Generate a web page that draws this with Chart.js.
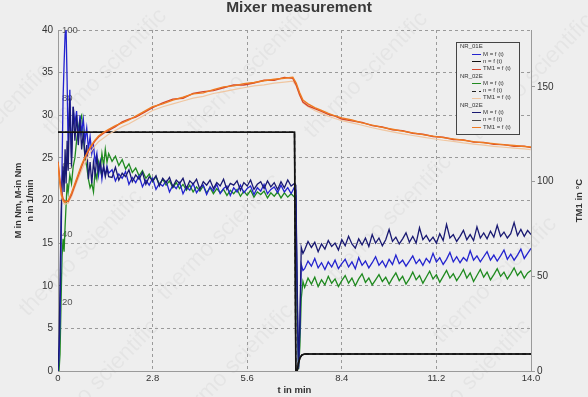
<!DOCTYPE html>
<html>
<head>
<meta charset="utf-8">
<title>Mixer measurement</title>
<script src="https://cdn.jsdelivr.net/npm/chart.js@4.4.1/dist/chart.umd.min.js"></script>
<style>
  html, body { margin: 0; padding: 0; background: #eeeeee; }
  #wrap { position: relative; width: 588px; height: 397px; }
</style>
</head>
<body>
<div id="wrap"><canvas id="myChart" width="588" height="397"></canvas></div>
<script>
// legend groups, one per run
const runs = ["NR_01E", "NR_02E", "NR_02E"];

// axis ticks
const xTicks = [0, 2.8, 5.6, 8.4, 11.2, 14.0];
const xTickLabels = ["0", "2.8", "5.6", "8.4", "11.2", "14.0"];
const mTicks = [0, 5, 10, 15, 20, 25, 30, 35, 40];
const nTicks = [20, 40, 60, 80, 100];
const tempTicks = [0, 50, 100, 150];

// torque M (Nm), sampled at tM (min)
const tM = [
  0, 0.03, 0.06, 0.09, 0.12, 0.15, 0.18, 0.21, 0.24, 0.27,
  0.3, 0.35, 0.4, 0.45, 0.5, 0.55, 0.6, 0.65, 0.7, 0.75,
  0.8, 0.85, 0.9, 0.95, 1.0, 1.05, 1.1, 1.15, 1.2, 1.25,
  1.3, 1.35, 1.4, 1.45, 1.5,
  1.6, 1.7, 1.8, 1.9, 2.0, 2.1, 2.2, 2.3, 2.4, 2.5,
  2.6, 2.7, 2.8, 2.9, 3.0, 3.1, 3.2, 3.3, 3.4, 3.5,
  3.6, 3.7, 3.8, 3.9, 4.0, 4.1, 4.2, 4.3, 4.4, 4.5,
  4.6, 4.7, 4.8, 4.9, 5.0, 5.1, 5.2, 5.3, 5.4, 5.5,
  5.6, 5.7, 5.8, 5.9, 6.0, 6.1, 6.2, 6.3, 6.4, 6.5,
  6.6, 6.7, 6.8, 6.9, 7.0,
  7.04, 7.08, 7.12, 7.16, 7.2, 7.25,
  7.3, 7.4, 7.5, 7.6, 7.7, 7.8, 7.9, 8.0, 8.1, 8.2,
  8.3, 8.4, 8.5, 8.6, 8.7, 8.8, 8.9, 9.0, 9.1, 9.2,
  9.3, 9.4, 9.5, 9.6, 9.7, 9.8, 9.9, 10.0, 10.1, 10.2,
  10.3, 10.4, 10.5, 10.6, 10.7, 10.8, 10.9, 11.0, 11.1, 11.2,
  11.3, 11.4, 11.5, 11.6, 11.7, 11.8, 11.9, 12.0, 12.1, 12.2,
  12.3, 12.4, 12.5, 12.6, 12.7, 12.8, 12.9, 13.0, 13.1, 13.2,
  13.3, 13.4, 13.5, 13.6, 13.7, 13.8, 13.9, 14.0
];

const mRun1 = [
  0, 1.5, 6, 14, 24, 32, 36, 39.5, 40, 34,
  26, 33, 25, 31, 29, 30.5, 27, 30, 28, 29.5,
  27, 28.5, 26, 27.5, 25.5, 26.5, 24.5, 25.5, 23, 24.5,
  22.5, 24, 23, 24, 23.2,
  23.6, 22.3, 23.1, 22.6, 23.4, 21.9, 22.7, 22.1, 22.9, 21.6,
  22.4, 21.8, 22.6, 21.3, 22.0, 21.7, 22.3, 21.0, 21.8, 21.4,
  22.1, 20.8, 21.6, 21.2, 22.0, 20.9, 21.5, 21.8, 20.7, 21.6,
  21.1, 21.9, 20.8, 21.4, 21.7, 20.6, 21.5, 21.0, 21.8, 20.9,
  21.4, 21.7, 20.7, 21.5, 21.1, 21.9, 20.8, 21.3, 21.6, 20.9,
  21.8, 21.0, 21.5, 20.8, 21.6,
  21.2, 8, 0.3, 5, 12.5, 11.8,
  12.0, 12.9, 12.3, 13.2, 12.1, 12.7, 11.9, 12.8, 12.2, 13.0,
  12.0, 12.6, 13.1, 12.2, 12.8, 12.0, 13.3, 12.4, 12.9, 12.1,
  12.7, 13.4, 12.4, 12.9, 12.2, 13.1, 12.5, 13.6, 12.6, 13.0,
  12.3, 12.9, 13.5, 12.6, 13.1, 12.4, 13.2, 12.7, 13.8, 12.8,
  13.3, 12.5, 13.1, 13.9, 12.8, 13.4, 12.7, 13.3, 12.9, 14.1,
  13.0, 13.5, 12.8, 13.4, 14.0, 13.0, 13.6, 12.9, 13.5, 14.2,
  13.1, 13.7, 13.0, 13.6, 14.3, 13.2, 13.8, 14.4
];

const mRun2 = [
  0, 0, 2, 8, 13.5, 15.5, 14, 17, 19.5, 22,
  21, 23, 22, 24, 25, 27, 28.5, 29.5, 30, 27.5,
  25, 24, 22.5, 21.5, 22, 21, 23.5, 22.5, 24.5, 23.5,
  25.5, 24, 26, 24.5, 25.5,
  24.6, 25.2, 24.1, 24.8, 23.7, 24.3, 23.3, 23.8, 22.9, 23.5,
  22.6, 23.1, 22.2, 22.8, 21.9, 22.5, 21.8, 22.3, 21.5, 22.1,
  21.4, 21.9, 21.2, 21.8, 21.0, 21.6, 21.1, 21.7, 20.9, 21.5,
  20.8, 21.4, 20.9, 21.3, 20.6, 21.2, 20.8, 21.3, 20.5, 21.1,
  20.6, 21.2, 20.4, 21.0, 20.7, 21.1, 20.3, 20.9, 20.5, 21.0,
  20.3, 20.9, 20.4, 20.8, 20.4,
  20.5, 6, 0.2, 3, 8.5, 10.5,
  9.8, 10.9, 10.2, 11.0, 9.9, 10.7, 10.1, 11.1, 10.3, 10.8,
  9.9, 10.6, 11.2, 10.3, 10.9, 10.0, 10.8, 11.4, 10.4, 10.9,
  10.1, 10.7, 11.3, 10.5, 11.0, 10.2, 10.9, 11.5, 10.6, 11.1,
  10.2, 10.8, 11.6, 10.7, 11.2, 10.3, 11.0, 11.7, 10.8, 11.3,
  10.4, 11.1, 11.8, 10.9, 11.4, 10.6, 11.2, 11.9, 10.9, 11.5,
  10.5, 11.2, 11.9, 11.0, 11.6, 10.7, 11.3, 12.0, 11.1, 11.6,
  10.8, 11.4, 12.1, 11.2, 11.7, 10.9, 11.5, 11.8
];

const mRun3 = [
  0, 3, 10, 18, 22, 24, 21, 26, 22, 27,
  23.5, 32, 24, 31, 27, 30, 26.5, 29.5, 26, 28,
  25, 26.5, 22.5, 24.5, 22, 24.5, 23, 25, 23.5, 24.5,
  23, 24, 22.8, 23.8, 22.8,
  22.7, 23.9, 22.4, 23.2, 22.8, 23.6, 22.2, 23.0, 22.5, 23.3,
  21.9, 22.8, 22.3, 22.9, 21.7, 22.6, 22.1, 22.7, 21.6, 22.4,
  22.0, 22.6, 21.4, 22.3, 21.9, 22.5, 21.3, 22.2, 21.8, 22.4,
  21.4, 22.1, 21.7, 22.5, 21.3, 22.0, 21.8, 22.3, 21.2, 22.1,
  21.7, 22.4, 21.3, 21.9, 22.2, 21.4, 22.3, 21.6, 22.1, 21.3,
  22.2, 21.5, 22.4, 21.7, 22.0,
  21.8, 10, 0.5, 6, 14.5, 13.8,
  14.2, 15.2, 14.5, 15.1, 14.0, 14.9, 14.3, 15.3, 14.6, 15.0,
  14.2, 15.4, 14.7, 15.8, 14.9, 14.4, 15.5, 14.8, 15.6, 14.6,
  16.0, 15.0, 15.6, 14.7, 15.4, 16.6, 15.2, 15.7, 14.9, 15.5,
  16.2, 15.1, 15.8, 15.0, 16.8, 15.4, 15.9, 15.2, 15.7, 15.0,
  16.1, 15.3, 17.2, 15.6, 16.0, 15.2, 15.8, 16.5, 15.4, 16.0,
  15.3, 16.9, 15.6, 16.2, 15.5, 16.4, 15.7, 17.1, 15.8, 16.3,
  15.6, 16.1, 17.4, 15.9, 16.6, 15.8, 16.5, 16.0
];

// rotor speed n (1/min), same programme for all runs
const tN = [0, 7.0, 7.04, 7.08, 7.12, 7.17, 7.22, 7.3, 14.0];
const nRun = [70, 70, 0, 0, 2.5, 4.0, 4.7, 5, 5];

// melt temperature TM1 (°C), sampled at tT (min)
const tT = [
  0, 0.05, 0.1, 0.15, 0.2,
  0.3, 0.4, 0.5, 0.6, 0.7, 0.8, 0.9, 1.0, 1.1, 1.2,
  1.35, 1.5, 1.7, 1.9, 2.1, 2.3, 2.5,
  2.8, 3.1, 3.4, 3.7, 4.0, 4.3, 4.6, 4.9, 5.2, 5.5, 5.8, 6.1, 6.4, 6.7,
  6.95, 7.05, 7.15, 7.25,
  7.4, 7.6, 7.8, 8.0, 8.2, 8.4,
  8.7, 9.0, 9.3, 9.6, 9.9, 10.2, 10.5, 10.8, 11.1, 11.4, 11.7, 12.0, 12.3, 12.6, 12.9, 13.2, 13.5, 13.8,
  14.0
];
const tmRun1 = [
  110.5, 102, 95, 91, 89.5,
  89.5, 93, 98, 103, 108, 112.5, 116, 119, 121.5, 123.5,
  125.5, 127, 129, 131.5, 133, 134, 136,
  139, 141.5, 143.5, 144, 146.5, 147.5, 148, 149.5, 151, 151, 152, 153.5, 153.5, 155,
  154.5, 151, 146, 142,
  140, 138.5, 137, 135.5, 134.5, 133,
  132, 131.2, 129.5, 128.8, 127.3, 126.8, 125.5, 125, 123.8, 123.4, 122.2, 122, 120.8, 120.7, 119.6, 119.5, 118.6, 118.7,
  117.9
];
const tmRun2 = [
  109, 99, 92, 89, 88,
  88.5, 92, 97, 101.5, 106, 110, 113.5, 116.5, 119, 121,
  123, 125, 127, 129, 130.5, 132.5, 134.5,
  137.5, 139.5, 141, 142.5, 144, 145, 146.5, 147.5, 148.5, 149.5, 150.5, 151, 152, 152.5,
  153, 150.5, 145.5, 141.5,
  139.5, 137.5, 136, 134.5, 133.3, 132.2,
  131, 129.7, 128.4, 127.3, 126.2, 125.2, 124.3, 123.5, 122.6, 121.8, 121.2, 120.4, 119.8, 119.2, 118.6, 118.1, 117.6, 117.2,
  116.8
];
const tmRun3 = [
  110, 100, 93, 90, 89,
  90, 94, 99, 104, 109, 113, 116.5, 119.5, 122, 124,
  126, 127.5, 129.5, 131, 132.5, 134.5, 136.5,
  139.5, 141, 143, 144.5, 146.3, 146.8, 148.5, 150, 150.5, 151.7, 152.3, 153.2, 154, 154.5,
  155, 152, 147, 143,
  141, 139, 137.5, 136, 134.7, 133.6,
  132.5, 131, 129.8, 128.6, 127.6, 126.6, 125.7, 124.8, 124, 123.2, 122.5, 121.8, 121.1, 120.5, 120, 119.4, 119, 118.5,
  118.2
];

function pts(xs, ys) {
  return xs.map((x, i) => ({ x: x, y: ys[i] }));
}

Chart.defaults.font.family = '"Liberation Sans", Arial, sans-serif';
Chart.defaults.color = "#333";

const datasets = [
  { label: "M = f (t)", run: 0, data: pts(tM, mRun1), yAxisID: "yM", borderColor: "#2323cf", borderWidth: 1.3, order: 5 },
  { label: "n = f (t)", run: 0, data: pts(tN, nRun), yAxisID: "yN", borderColor: "#111111", borderWidth: 1.6, order: 3 },
  { label: "TM1 = f (t)", run: 0, data: pts(tT, tmRun1), yAxisID: "yT", borderColor: "#d4452c", borderWidth: 1.4, order: 1 },
  { label: "M = f (t)", run: 1, data: pts(tM, mRun2), yAxisID: "yM", borderColor: "#1f8a1f", borderWidth: 1.3, order: 6 },
  { label: "n = f (t)", run: 1, data: pts(tN, nRun), yAxisID: "yN", borderColor: "#222222", borderWidth: 1.4, borderDash: [4, 3], order: 3 },
  { label: "TM1 = f (t)", run: 1, data: pts(tT, tmRun2), yAxisID: "yT", borderColor: "#f0c6a0", borderWidth: 1.2, order: 2 },
  { label: "M = f (t)", run: 2, data: pts(tM, mRun3), yAxisID: "yM", borderColor: "#191972", borderWidth: 1.3, order: 4 },
  { label: "n = f (t)", run: 2, data: pts(tN, nRun), yAxisID: "yN", borderColor: "#4a4a4a", borderWidth: 1.4, order: 3 },
  { label: "TM1 = f (t)", run: 2, data: pts(tT, tmRun3), yAxisID: "yT", borderColor: "#ee7a22", borderWidth: 1.4, order: 0 }
];

// faint watermark, right axis title and the boxed legend
const extras = {
  id: "extras",
  beforeDraw(chart) {
    const ctx = chart.ctx;
    const spots = [[105, 72], [249, 70], [366, 75], [532, 77], [-11, 127], [81, 253], [219, 237],
                   [390, 218], [495, 280], [97, 383], [232, 367], [469, 383], [650, 240]];
    ctx.save();
    ctx.font = '23px "Liberation Sans", Arial, sans-serif';
    ctx.fillStyle = "rgba(0,0,0,0.04)";
    ctx.textAlign = "center";
    ctx.textBaseline = "middle";
    for (const s of spots) {
      ctx.save();
      ctx.translate(s[0], s[1]);
      ctx.rotate(-0.8);
      ctx.fillText("thermo scientific", 0, 0);
      ctx.restore();
    }
    ctx.restore();
  },
  afterDraw(chart) {
    const ctx = chart.ctx;
    const area = chart.chartArea;

    ctx.save();
    ctx.translate(579, (area.top + area.bottom) / 2);
    ctx.rotate(-Math.PI / 2);
    ctx.font = 'bold 9.5px "Liberation Sans", Arial, sans-serif';
    ctx.fillStyle = "#333";
    ctx.textAlign = "center";
    ctx.textBaseline = "middle";
    ctx.fillText("TM1 in \u00b0C", 0, 0);
    ctx.restore();

    const bx = area.right - 75, by = area.top + 12, bw = 63, bh = 92;
    ctx.save();
    ctx.fillStyle = "#eeeeee";
    ctx.fillRect(bx, by, bw, bh);
    ctx.strokeStyle = "#444";
    ctx.lineWidth = 1;
    ctx.strokeRect(bx + 0.5, by + 0.5, bw, bh);
    ctx.font = '6px "Liberation Sans", Arial, sans-serif';
    ctx.textBaseline = "middle";
    ctx.fillStyle = "#333";
    let row = 0;
    const rowY = () => by + 4.7 + row * 7.3;
    runs.forEach((name, r) => {
      ctx.fillText(name, bx + 4, rowY());
      row++;
      chart.data.datasets.filter(d => d.run === r).forEach(d => {
        const y = Math.round(rowY()) + 0.5;
        ctx.strokeStyle = d.borderColor;
        ctx.lineWidth = 1;
        ctx.setLineDash(d.borderDash || []);
        ctx.beginPath();
        ctx.moveTo(bx + 16, y);
        ctx.lineTo(bx + 25, y);
        ctx.stroke();
        ctx.setLineDash([]);
        ctx.fillText(d.label, bx + 27, rowY());
        row++;
      });
    });
    ctx.restore();
  }
};

const grayGrid = "#9a9a9a";
const axisLine = "#9a9a9a";

new Chart(document.getElementById("myChart"), {
  type: "line",
  data: { datasets: datasets },
  options: {
    responsive: false,
    devicePixelRatio: 1,
    animation: false,
    events: [],
    layout: { padding: { left: 10, right: 0, top: 0, bottom: 0 } },
    elements: { point: { radius: 0 }, line: { tension: 0, fill: false } },
    plugins: {
      legend: { display: false },
      tooltip: { enabled: false },
      title: {
        display: true,
        text: "Mixer measurement",
        color: "#3a3a3a",
        font: { size: 15.5, weight: "bold", lineHeight: "16px" },
        padding: { top: 0, bottom: 14 }
      }
    },
    scales: {
      x: {
        type: "linear",
        min: 0,
        max: 14,
        afterBuildTicks: s => { s.ticks = xTicks.map(v => ({ value: v })); },
        afterFit: s => { s.height = 26; },
        ticks: { callback: (v, i) => xTickLabels[i], font: { size: 9.5 }, padding: 2, maxRotation: 0, autoSkip: false },
        grid: { color: grayGrid, drawTicks: false },
        border: { display: true, color: axisLine, dash: [3, 3] },
        title: { display: true, text: "t in min", font: { size: 9.5, weight: "bold", lineHeight: "12px" }, padding: { top: 0, bottom: 1 } }
      },
      yM: {
        type: "linear",
        position: "left",
        weight: 1,
        min: 0,
        max: 40,
        afterBuildTicks: s => { s.ticks = mTicks.map(v => ({ value: v })); },
        afterFit: s => { s.width = 48; },
        ticks: { font: { size: 10 }, padding: 5 },
        grid: { color: grayGrid, drawTicks: false },
        border: { display: true, color: axisLine, dash: [3, 3] },
        title: {
          display: true,
          text: ["M in Nm, M-in Nm", "n in 1/min"],
          font: { size: 9, weight: "bold", lineHeight: "12px" },
          padding: { top: 2.5, bottom: 0 }
        }
      },
      yN: {
        type: "linear",
        position: "left",
        weight: 0,
        min: 0,
        max: 100,
        afterBuildTicks: s => { s.ticks = nTicks.map(v => ({ value: v })); },
        afterFit: s => { s.width = 0; },
        ticks: { mirror: true, padding: 4, color: "#555", font: { size: 9.5 } },
        grid: { display: false },
        border: { display: false }
      },
      yT: {
        type: "linear",
        position: "right",
        min: 0,
        max: 180,
        afterBuildTicks: s => { s.ticks = tempTicks.map(v => ({ value: v })); },
        afterFit: s => { s.width = 57; },
        ticks: { font: { size: 10 }, padding: 2 },
        grid: { display: true, drawOnChartArea: false, drawTicks: true, tickLength: 4, color: axisLine },
        border: { display: true, color: axisLine }
      }
    }
  },
  plugins: [extras]
});
</script>
</body>
</html>
